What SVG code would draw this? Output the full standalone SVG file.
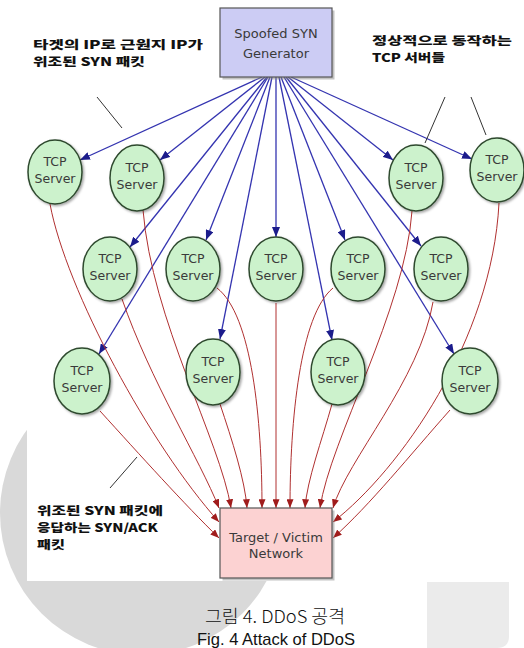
<svg xmlns="http://www.w3.org/2000/svg" width="524" height="648" viewBox="0 0 524 648">
  <defs>
    <marker id="arrowBlue" viewBox="0 0 10 8" refX="10" refY="4" markerWidth="10" markerHeight="8" markerUnits="userSpaceOnUse" orient="auto">
      <path d="M0,0 L10,4 L0,8 z" fill="#1c1c8c"/>
    </marker>
    <marker id="arrowRed" viewBox="0 0 10 8" refX="10" refY="4" markerWidth="9" markerHeight="7" markerUnits="userSpaceOnUse" orient="auto">
      <path d="M0,0 L10,4 L0,8 z" fill="#a01c1c"/>
    </marker>
    <filter id="shadow" x="-20%" y="-20%" width="150%" height="150%">
      <feDropShadow dx="1.5" dy="1.5" stdDeviation="1" flood-color="#000" flood-opacity="0.35"/>
    </filter>
    <style>
      .server ellipse { fill: #ccf2cc; stroke: #2f4a2f; stroke-width: 1.5; filter: url(#shadow); }
      .server text, .box text { font-family: "DejaVu Sans", Verdana, sans-serif; font-size: 12.5px; fill: #3a3a3a; text-anchor: middle; }
      .box text { font-size: 13px; }
      .syn { fill: none; stroke: #3434b0; stroke-width: 1.3; marker-end: url(#arrowBlue); }
      .ack { fill: none; stroke: #b03030; stroke-width: 1; marker-end: url(#arrowRed); }
      .note { font-family: "Noto Sans CJK KR", "Noto Sans", sans-serif; font-weight: 900; font-size: 11.5px; fill: #111; }
      .pointer { stroke: #333; stroke-width: 1; fill: none; }
      .caption { font-family: "Noto Sans CJK KR", "Noto Sans", sans-serif; font-weight: 300; font-size: 18px; fill: #111; text-anchor: middle; }
      .caption-en { font-family: "Liberation Sans", Arial, sans-serif; font-size: 17px; fill: #111; text-anchor: middle; }
    </style>
  </defs>

  <!-- page background and watermark shapes -->
  <rect x="0" y="0" width="524" height="648" fill="#ffffff"/>
  <circle cx="142" cy="513" r="142" fill="#d9d9d9"/>
  <path d="M427,582 H509 V636 Q509,648 497,648 H427 Z" fill="#ebebeb"/>
  <rect x="27" y="0" width="497" height="581" fill="#ffffff"/>

  <!-- connectors -->
  <g id="connectors">
    <!-- spoofed SYN packets -->
    <line class="syn" x1="262" y1="77" x2="80" y2="160"/>
    <line class="syn" x1="265" y1="77" x2="160" y2="160"/>
    <line class="syn" x1="267" y1="77" x2="130" y2="247"/>
    <line class="syn" x1="268" y1="77" x2="99" y2="354"/>
    <line class="syn" x1="270" y1="77" x2="206" y2="240"/>
    <line class="syn" x1="272" y1="77" x2="220" y2="339"/>
    <line class="syn" x1="276" y1="77" x2="276" y2="237"/>
    <line class="syn" x1="279" y1="77" x2="332" y2="340"/>
    <line class="syn" x1="281" y1="77" x2="345" y2="240"/>
    <line class="syn" x1="284" y1="77" x2="454" y2="354"/>
    <line class="syn" x1="286" y1="77" x2="421" y2="246"/>
    <line class="syn" x1="288" y1="77" x2="393" y2="160"/>
    <line class="syn" x1="291" y1="77" x2="472" y2="159"/>

    <!-- SYN/ACK replies -->
    <path class="ack" d="M50,204 C66,290 150,445 219,522"/>
    <path class="ack" d="M100,411 C140,455 185,505 219,538"/>
    <path class="ack" d="M122,299 C150,380 200,460 219,508"/>
    <path class="ack" d="M143,210 C152,320 220,440 231,508"/>
    <path class="ack" d="M220,404 C232,440 245,480 247,508"/>
    <path class="ack" d="M217,288 C252,315 262,420 262,508"/>
    <path class="ack" d="M276,303 L276,508"/>
    <path class="ack" d="M333,288 C300,315 290,420 290,508"/>
    <path class="ack" d="M332,404 C322,440 307,480 305,508"/>
    <path class="ack" d="M412,211 C405,310 330,440 320,508"/>
    <path class="ack" d="M433,302 C420,380 347,460 333,508"/>
    <path class="ack" d="M499,203 C492,340 400,470 333,522"/>
    <path class="ack" d="M450,410 C410,455 370,505 333,538"/>

    <!-- annotation pointers -->
    <line class="pointer" x1="97" y1="97" x2="122" y2="128"/>
    <line class="pointer" x1="445" y1="97" x2="425" y2="143"/>
    <line class="pointer" x1="471" y1="97" x2="486" y2="135"/>
    <line class="pointer" x1="137" y1="457" x2="110" y2="488"/>
  </g>

  <!-- source and target -->
  <g id="generator" class="box">
    <rect x="222.5" y="10.5" width="112" height="69" fill="#888" opacity="0.5"/>
    <rect x="220" y="8" width="112" height="69" fill="#ccccf4" stroke="#555" stroke-width="1.2"/>
    <text x="276" y="38">Spoofed SYN</text>
    <text x="276" y="58">Generator</text>
  </g>
  <g id="target" class="box">
    <rect x="222.5" y="510.5" width="112" height="70" fill="#888" opacity="0.5"/>
    <rect x="220" y="508" width="112" height="70" fill="#fcd2d2" stroke="#555" stroke-width="1.2"/>
    <text x="276" y="542">Target / Victim</text>
    <text x="276" y="558">Network</text>
  </g>

  <!-- TCP servers -->
  <g id="server-a" class="server"><ellipse cx="55" cy="172" rx="27" ry="32"/><text x="55" y="166">TCP</text><text x="55" y="183">Server</text></g>
  <g id="server-b" class="server"><ellipse cx="137" cy="178" rx="27" ry="33"/><text x="137" y="172">TCP</text><text x="137" y="189">Server</text></g>
  <g id="server-c" class="server"><ellipse cx="416" cy="178" rx="27" ry="33"/><text x="416" y="172">TCP</text><text x="416" y="189">Server</text></g>
  <g id="server-d" class="server"><ellipse cx="497" cy="170" rx="27" ry="32"/><text x="497" y="164">TCP</text><text x="497" y="181">Server</text></g>
  <g id="server-e" class="server"><ellipse cx="110" cy="269" rx="27" ry="32"/><text x="110" y="263">TCP</text><text x="110" y="280">Server</text></g>
  <g id="server-f" class="server"><ellipse cx="193" cy="269" rx="27" ry="32"/><text x="193" y="263">TCP</text><text x="193" y="280">Server</text></g>
  <g id="server-g" class="server"><ellipse cx="276" cy="269" rx="27" ry="32"/><text x="276" y="263">TCP</text><text x="276" y="280">Server</text></g>
  <g id="server-h" class="server"><ellipse cx="358" cy="269" rx="27" ry="32"/><text x="358" y="263">TCP</text><text x="358" y="280">Server</text></g>
  <g id="server-i" class="server"><ellipse cx="441" cy="269" rx="27" ry="32"/><text x="441" y="263">TCP</text><text x="441" y="280">Server</text></g>
  <g id="server-j" class="server"><ellipse cx="82" cy="381" rx="28" ry="33"/><text x="82" y="375">TCP</text><text x="82" y="392">Server</text></g>
  <g id="server-k" class="server"><ellipse cx="213" cy="372" rx="27" ry="33"/><text x="213" y="366">TCP</text><text x="213" y="383">Server</text></g>
  <g id="server-l" class="server"><ellipse cx="338" cy="372" rx="27" ry="33"/><text x="338" y="366">TCP</text><text x="338" y="383">Server</text></g>
  <g id="server-m" class="server"><ellipse cx="470" cy="381" rx="28" ry="33"/><text x="470" y="375">TCP</text><text x="470" y="392">Server</text></g>

  <!-- annotations -->
  <g id="note-spoofed">
    <text class="note" x="33" y="49" textLength="170" lengthAdjust="spacingAndGlyphs">타겟의  IP로  근원지  IP가</text>
    <text class="note" x="33" y="66" textLength="112" lengthAdjust="spacingAndGlyphs">위조된  SYN  패킷</text>
  </g>
  <g id="note-normal">
    <text class="note" x="372" y="45" textLength="140" lengthAdjust="spacingAndGlyphs">정상적으로  동작하는</text>
    <text class="note" x="372" y="62" textLength="73" lengthAdjust="spacingAndGlyphs">TCP  서버들</text>
  </g>
  <g id="note-reply">
    <text class="note" x="37" y="515" textLength="126" lengthAdjust="spacingAndGlyphs">위조된  SYN  패킷에</text>
    <text class="note" x="37" y="532" textLength="121" lengthAdjust="spacingAndGlyphs">응답하는  SYN/ACK</text>
    <text class="note" x="37" y="549" textLength="28" lengthAdjust="spacingAndGlyphs">패킷</text>
  </g>

  <!-- figure caption -->
  <text class="caption" x="275" y="623" textLength="140" lengthAdjust="spacingAndGlyphs">그림 4. DDoS 공격</text>
  <text class="caption-en" x="276" y="645" textLength="158" lengthAdjust="spacingAndGlyphs">Fig. 4 Attack of DDoS</text>
</svg>
